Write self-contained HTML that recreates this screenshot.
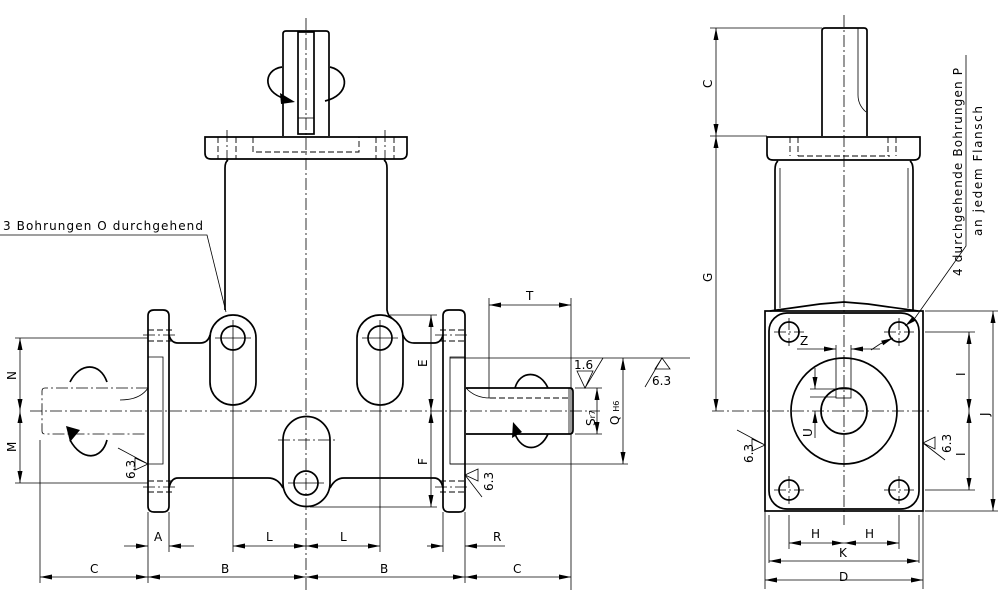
<!DOCTYPE html>
<html><head><meta charset="utf-8"><style>
html,body{margin:0;padding:0;background:#fff}
svg{display:block}
text{font-family:"DejaVu Sans","Liberation Sans",sans-serif;font-size:12px;fill:#000}
.o{fill:none;stroke:#000;stroke-width:1.7}
.t{fill:none;stroke:#000;stroke-width:0.8}
.c{fill:none;stroke:#000;stroke-width:0.8;stroke-dasharray:12 3 2 3}
.h{fill:none;stroke:#000;stroke-width:0.9;stroke-dasharray:6 3}
</style></head><body>
<svg width="1000" height="611" viewBox="0 0 1000 611" xmlns="http://www.w3.org/2000/svg">
<defs>
<marker id="a" markerWidth="12" markerHeight="6" refX="12" refY="3" orient="auto-start-reverse" markerUnits="userSpaceOnUse"><path d="M0,0.5 L12,3 L0,5.5z" fill="#000"/></marker>
</defs>

<!-- ===== LEFT VIEW ===== -->
<line class="c" x1="306" y1="18" x2="306" y2="590"/>
<line class="c" x1="30" y1="411" x2="600" y2="411"/>

<!-- top shaft -->
<path class="o" d="M283,136 V34 Q283,31 286,31 H326 Q329,31 329,34 V136"/>
<rect class="o" x="298" y="32" width="16" height="102"/>
<line class="t" x1="298" y1="118" x2="314" y2="118"/>
<path class="o" d="M282,67 C262,70 262,95 290,100"/>
<path class="o" d="M330,67 C350,72 350,95 325,101"/>
<path d="M280,93 L295,102 L281,104z" fill="#000"/>
<!-- top flange -->
<path class="o" d="M205,137 H407 V153 Q407,159 401,159 H211 Q205,159 205,153 Z"/>
<path class="h" d="M253,137 V152 H359 V137"/>
<line class="h" x1="218" y1="137" x2="218" y2="159"/>
<line class="h" x1="236" y1="137" x2="236" y2="159"/>
<line class="c" x1="227" y1="130" x2="227" y2="165"/>
<line class="h" x1="376" y1="137" x2="376" y2="159"/>
<line class="h" x1="394" y1="137" x2="394" y2="159"/>
<line class="c" x1="385" y1="130" x2="385" y2="165"/>
<path class="o" d="M228,160 Q225,162 225,168 V310"/>
<path class="o" d="M384,160 Q387,162 387,168 V310 Q388,316 392,318"/>

<!-- left flange -->
<path class="o" d="M148,316 Q148,310 154,310 H163 Q169,310 169,316 V506 Q169,512 163,512 H154 Q148,512 148,506 Z"/>
<path class="t" d="M148,357 H163 V464 H148"/>
<line class="h" x1="148" y1="330" x2="172" y2="330"/>
<line class="h" x1="148" y1="341" x2="172" y2="341"/>
<line class="c" x1="143" y1="335" x2="178" y2="335"/>
<line class="h" x1="148" y1="481" x2="172" y2="481"/>
<line class="h" x1="148" y1="492" x2="172" y2="492"/>
<line class="c" x1="143" y1="487" x2="178" y2="487"/>
<!-- right flange -->
<path class="o" d="M443,316 Q443,310 449,310 H459 Q465,310 465,316 V506 Q465,512 459,512 H449 Q443,512 443,506 Z"/>
<path class="t" d="M465,357 H450 V464 H465"/>
<line class="h" x1="440" y1="330" x2="465" y2="330"/>
<line class="h" x1="440" y1="341" x2="465" y2="341"/>
<line class="c" x1="435" y1="335" x2="470" y2="335"/>
<line class="h" x1="440" y1="481" x2="465" y2="481"/>
<line class="h" x1="440" y1="492" x2="465" y2="492"/>
<line class="c" x1="435" y1="487" x2="470" y2="487"/>

<!-- body outline with lobes -->
<path class="o" d="M169,335 Q171,343 178,343 H200 Q208,343 210,335"/>
<path class="o" d="M210,338 A23,23 0 0 1 256,338 V382 A23,23 0 0 1 210,382 Z"/>
<circle class="o" cx="233" cy="338" r="12"/>
<path class="o" d="M357,338 A23,23 0 0 1 403,338 V382 A23,23 0 0 1 357,382 Z"/>
<circle class="o" cx="380" cy="338" r="12"/>
<path class="o" d="M403,335 Q406,343 414,343 H434 Q441,343 443,335"/>
<path class="o" d="M283,440 A23.5,23.5 0 0 1 330,440 V483 A23.5,23.5 0 0 1 283,483 Z"/>
<circle class="o" cx="306" cy="483" r="12"/>
<path class="o" d="M169,488 Q171,478 178,478 H268 Q278,478 283,488"/>
<path class="o" d="M330,488 Q335,478 344,478 H434 Q441,478 443,488"/>
<line class="t" x1="233" y1="320" x2="233" y2="552"/>
<line class="t" x1="215" y1="338" x2="251" y2="338"/>
<line class="t" x1="380" y1="320" x2="380" y2="552"/>
<line class="t" x1="362" y1="338" x2="398" y2="338"/>
<line class="t" x1="288" y1="483" x2="324" y2="483"/>
<line class="c" x1="278" y1="440" x2="336" y2="440"/>

<!-- left shaft hidden -->
<path class="c" d="M148,388 H45 Q42,388 42,391 V431 Q42,434 45,434 H148"/>
<path class="t" d="M148,388 Q140,400 120,400"/>
<path class="o" d="M70,382 C80,362 100,362 107,382"/>
<path class="o" d="M70,440 C82,462 102,460 107,440"/>
<path d="M66,426 L70,442 L80,430z" fill="#000"/>
<!-- right shaft -->
<path class="o" d="M466,388 H570 Q573,388 573,392 V430 Q573,434 570,434 H466"/>
<line class="t" x1="569" y1="388" x2="569" y2="434"/>
<path class="h" d="M490,398 H570"/>
<path class="t" d="M466,388 Q475,398 490,398"/>
<path class="o" d="M515,388 C520,370 540,370 548,388"/>
<path class="o" d="M515,434 C522,452 540,452 548,434"/>
<path d="M513,422 L512,438 L522,432z" fill="#000"/>

<!-- dims left: N M -->
<line class="t" x1="15" y1="338" x2="148" y2="338"/>
<line class="t" x1="15" y1="483" x2="148" y2="483"/>
<line class="t" x1="20" y1="338" x2="20" y2="411" marker-start="url(#a)" marker-end="url(#a)"/>
<line class="t" x1="20" y1="411" x2="20" y2="483" marker-start="url(#a)" marker-end="url(#a)"/>
<text transform="translate(16,380) rotate(-90)">N</text>
<text transform="translate(16,452) rotate(-90)">M</text>
<!-- E F -->
<line class="t" x1="390" y1="315" x2="437" y2="315"/>
<line class="t" x1="310" y1="507" x2="437" y2="507"/>
<line class="t" x1="431" y1="315" x2="431" y2="411" marker-start="url(#a)" marker-end="url(#a)"/>
<line class="t" x1="431" y1="411" x2="431" y2="507" marker-start="url(#a)" marker-end="url(#a)"/>
<text transform="translate(427,367) rotate(-90)">E</text>
<text transform="translate(427,465) rotate(-90)">F</text>
<!-- T -->
<line class="t" x1="489" y1="298" x2="489" y2="398"/>
<line class="t" x1="571" y1="298" x2="571" y2="590"/>
<line class="t" x1="489" y1="305" x2="571" y2="305" marker-start="url(#a)" marker-end="url(#a)"/>
<text x="526" y="300">T</text>
<!-- S Q -->
<line class="t" x1="450" y1="358" x2="690" y2="358"/>
<line class="t" x1="450" y1="464" x2="628" y2="464"/>
<line class="t" x1="575" y1="388" x2="602" y2="388"/>
<line class="t" x1="575" y1="434" x2="602" y2="434"/>
<line class="t" x1="597" y1="388" x2="597" y2="434" marker-start="url(#a)" marker-end="url(#a)"/>
<line class="t" x1="623" y1="358" x2="623" y2="464" marker-start="url(#a)" marker-end="url(#a)"/>
<text transform="translate(595,426) rotate(-90)">S<tspan font-size="8">r7</tspan></text>
<text transform="translate(619,425) rotate(-90)">Q <tspan font-size="8">H6</tspan></text>
<!-- surface symbols -->
<path class="t" d="M577,371 L585,388 L593,371 Z M585,388 L603,358"/>
<text x="574" y="369">1.6</text>
<path class="t" d="M655,369 L662,358 L670,369 Z M645,387 L662,358"/>
<text x="652" y="385">6.3</text>
<path class="t" d="M148,464 L135,458 L135,470 Z M148,464 L118,448"/>
<text transform="translate(135,479) rotate(-90)">6.3</text>
<path class="t" d="M465,475 L478,469 L478,481 Z M465,475 L482,497"/>
<text transform="translate(493,491) rotate(-90)">6.3</text>

<!-- bottom dims -->
<line class="t" x1="40" y1="440" x2="40" y2="583"/>
<line class="t" x1="148" y1="512" x2="148" y2="583"/>
<line class="t" x1="169" y1="512" x2="169" y2="552"/>
<line class="t" x1="443" y1="512" x2="443" y2="552"/>
<line class="t" x1="465" y1="512" x2="465" y2="583"/>
<line class="t" x1="124" y1="546" x2="148" y2="546" marker-end="url(#a)"/>
<line class="t" x1="194" y1="546" x2="169" y2="546" marker-end="url(#a)"/>
<text x="154" y="541">A</text>
<line class="t" x1="233" y1="546" x2="306" y2="546" marker-start="url(#a)" marker-end="url(#a)"/>
<line class="t" x1="306" y1="546" x2="380" y2="546" marker-start="url(#a)" marker-end="url(#a)"/>
<text x="266" y="541">L</text><text x="340" y="541">L</text>
<line class="t" x1="427" y1="546" x2="443" y2="546" marker-end="url(#a)"/>
<line class="t" x1="505" y1="546" x2="465" y2="546" marker-end="url(#a)"/>
<text x="493" y="541">R</text>
<line class="t" x1="40" y1="577" x2="148" y2="577" marker-start="url(#a)" marker-end="url(#a)"/>
<line class="t" x1="148" y1="577" x2="306" y2="577" marker-start="url(#a)" marker-end="url(#a)"/>
<line class="t" x1="306" y1="577" x2="465" y2="577" marker-start="url(#a)" marker-end="url(#a)"/>
<line class="t" x1="465" y1="577" x2="571" y2="577" marker-start="url(#a)" marker-end="url(#a)"/>
<text x="90" y="573">C</text><text x="221" y="573">B</text><text x="380" y="573">B</text><text x="513" y="573">C</text>

<!-- leader -->
<text x="3" y="230" textLength="200" lengthAdjust="spacing">3 Bohrungen   O   durchgehend</text>
<path class="t" d="M0,235 H207 L226,312"/>

<!-- ===== RIGHT VIEW ===== -->
<line class="c" x1="844" y1="15" x2="844" y2="525"/>
<line class="c" x1="712" y1="411" x2="930" y2="411"/>
<path class="o" d="M822,136 V31 Q822,28 825,28 H864 Q867,28 867,31 V136"/>
<path class="t" d="M858,28 V95 Q858,105 866,112"/>
<path class="o" d="M767,137 H920 V154 Q920,160 914,160 H773 Q767,160 767,154 Z"/>
<path class="h" d="M798,137 V156 M790,137 V156 M888,137 V156 M896,137 V156 M798,156 H890"/>
<path class="o" d="M778,161 Q775,163 775,170 V310"/>
<path class="o" d="M910,161 Q913,163 913,170 V310"/>
<line class="t" x1="780" y1="168" x2="780" y2="308"/>
<line class="t" x1="908" y1="168" x2="908" y2="308"/>
<path class="o" d="M770,311 L820,304 L844,302 L868,304 L918,311"/>
<rect class="o" x="765" y="311" width="158" height="200"/>
<rect class="o" x="769" y="313" width="150" height="196" rx="18"/>
<g class="o">
<circle cx="789" cy="332" r="10"/><circle cx="899" cy="332" r="10"/>
<circle cx="789" cy="490" r="10"/><circle cx="899" cy="490" r="10"/>
<circle cx="844" cy="411" r="53"/><circle cx="844" cy="411" r="23"/>
</g>
<g class="c">
<line x1="774" y1="332" x2="804" y2="332"/><line x1="789" y1="318" x2="789" y2="346"/>
<line x1="884" y1="332" x2="914" y2="332"/><line x1="899" y1="318" x2="899" y2="346"/>
<line x1="774" y1="490" x2="804" y2="490"/><line x1="789" y1="476" x2="789" y2="504"/>
<line x1="884" y1="490" x2="914" y2="490"/><line x1="899" y1="476" x2="899" y2="504"/>
</g>
<rect class="t" x="836" y="389" width="15" height="9" stroke-width="1.4"/>
<line class="t" x1="836" y1="345" x2="836" y2="389"/>
<line class="t" x1="851" y1="345" x2="851" y2="389"/>
<line class="t" x1="797" y1="349" x2="836" y2="349" marker-end="url(#a)"/>
<line class="t" x1="880" y1="349" x2="851" y2="349" marker-end="url(#a)"/>
<text x="800" y="345">Z</text>
<path class="t" d="M871,350 L880,344 L893,338" marker-end="url(#a)"/>
<line class="t" x1="810" y1="389" x2="836" y2="389"/>
<line class="t" x1="810" y1="397" x2="836" y2="397"/>
<line class="t" x1="815" y1="368" x2="815" y2="389" marker-end="url(#a)"/>
<line class="t" x1="815" y1="438" x2="815" y2="411" marker-end="url(#a)"/>
<text transform="translate(812,437) rotate(-90)">U</text>
<line class="t" x1="710" y1="28" x2="822" y2="28"/>
<line class="t" x1="710" y1="136" x2="767" y2="136"/>
<line class="t" x1="716" y1="28" x2="716" y2="136" marker-start="url(#a)" marker-end="url(#a)"/>
<line class="t" x1="716" y1="136" x2="716" y2="411" marker-start="url(#a)" marker-end="url(#a)"/>
<text transform="translate(712,88) rotate(-90)">C</text>
<text transform="translate(712,282) rotate(-90)">G</text>
<line class="t" x1="925" y1="311" x2="998" y2="311"/>
<line class="t" x1="925" y1="511" x2="998" y2="511"/>
<line class="t" x1="925" y1="332" x2="975" y2="332"/>
<line class="t" x1="925" y1="490" x2="975" y2="490"/>
<line class="t" x1="969" y1="332" x2="969" y2="411" marker-start="url(#a)" marker-end="url(#a)"/>
<line class="t" x1="969" y1="411" x2="969" y2="490" marker-start="url(#a)" marker-end="url(#a)"/>
<line class="t" x1="993" y1="311" x2="993" y2="511" marker-start="url(#a)" marker-end="url(#a)"/>
<text transform="translate(965,376) rotate(-90)">I</text>
<text transform="translate(965,456) rotate(-90)">I</text>
<text transform="translate(989,416) rotate(-90)">J</text>
<path class="t" d="M765,445 L752,439 L752,451 Z M765,445 L737,430"/>
<text transform="translate(753,463) rotate(-90)">6.3</text>
<path class="t" d="M923,443 L935,437 L935,449 Z M923,443 L945,460"/>
<text transform="translate(951,453) rotate(-90)">6.3</text>
<line class="t" x1="789" y1="515" x2="789" y2="549"/>
<line class="t" x1="899" y1="515" x2="899" y2="549"/>
<line class="t" x1="765" y1="511" x2="765" y2="589"/>
<line class="t" x1="923" y1="511" x2="923" y2="589"/>
<line class="t" x1="769" y1="515" x2="769" y2="563"/>
<line class="t" x1="919" y1="515" x2="919" y2="563"/>
<line class="t" x1="789" y1="543" x2="844" y2="543" marker-start="url(#a)" marker-end="url(#a)"/>
<line class="t" x1="844" y1="543" x2="899" y2="543" marker-start="url(#a)" marker-end="url(#a)"/>
<line class="t" x1="769" y1="561" x2="919" y2="561" marker-start="url(#a)" marker-end="url(#a)"/>
<line class="t" x1="765" y1="580" x2="923" y2="580" marker-start="url(#a)" marker-end="url(#a)"/>
<text x="811" y="538">H</text><text x="865" y="538">H</text>
<text x="839" y="557">K</text><text x="839" y="581">D</text>
<text transform="translate(962,276) rotate(-90)" textLength="208" lengthAdjust="spacing">4 durchgehende Bohrungen     P</text>
<text transform="translate(982,236) rotate(-90)" textLength="130" lengthAdjust="spacing">an jedem Flansch</text>
<path class="t" d="M966,55 V246 L915,318"/>
<path class="t" d="M915,318 L905,326" marker-end="url(#a)"/>
</svg>
</body></html>
